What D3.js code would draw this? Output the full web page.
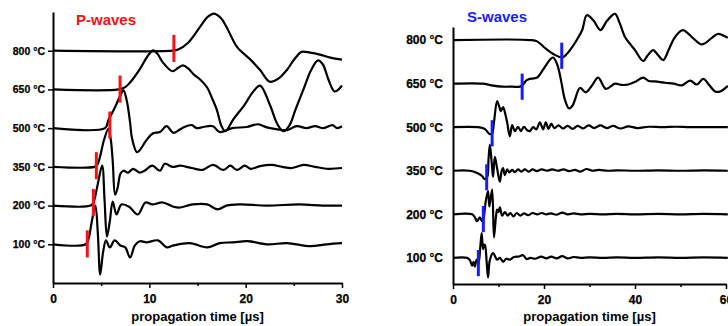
<!DOCTYPE html>
<html>
<head>
<meta charset="utf-8">
<script src="https://cdn.jsdelivr.net/npm/d3@7"></script>
<style>
  body { margin: 0; background: #fff; }
  svg text { font-family: "Liberation Sans", Arial, sans-serif; font-weight: bold; }
</style>
</head>
<body>
<div id="chart"></div>
<script>
// trace labels, bottom to top (index 0 = lowest trace)
const tempLabels = ["100 °C", "200 °C", "350 °C", "500 °C", "650 °C", "800 °C"];

// P-waves: [time µs, amplitude] (10 amplitude units = one trace spacing)
const p100 = [[0,0],[3.4,0],[3.7,1.5],[4.0,5.5],[4.4,10.0],[4.65,3],[4.9,-7.8],[5.2,-2],[5.5,1.0],[5.9,-0.8],[6.4,1.0],[7.0,-0.3],[7.5,-0.8],[8.0,-3.4],[8.5,-0.3],[9.0,0.8],[9.7,0.5],[10.9,1.0],[11.8,-0.8],[12.5,-0.3],[14.2,0.3],[16.0,-0.8],[17.3,0.3],[18.7,0.5],[20.2,0.8],[22.2,0],[24.3,0.3],[26.7,-0.5],[28.4,0],[30,0.3]];
const p200 = [[0,0],[3.9,0],[4.2,0.8],[4.6,5],[5.1,10.3],[5.35,1.5],[5.6,-8],[5.9,-4],[6.2,1.0],[6.6,-2.3],[7.1,0.3],[7.9,-0.3],[8.8,-2.3],[9.6,0.8],[10.3,0.3],[11.4,0.8],[12.5,-0.3],[13.2,-0.5],[14.5,0.3],[16.0,0.3],[17.1,-1.0],[18.0,0],[19.4,0.3],[22.2,0],[25.6,0.3],[28,0],[30,0]];
const p350 = [[0,0],[4.3,0],[4.6,0.5],[4.9,2.8],[5.3,7.0],[5.75,9.8],[6.0,7.0],[6.2,1.5],[6.45,-7.2],[6.7,-5.5],[7.0,-1.8],[7.3,-1.0],[7.8,-1.5],[8.3,-0.5],[9.0,-1.5],[9.5,-1.0],[10.3,0.3],[11.1,-1.0],[11.6,0.8],[12.4,0],[13.2,0.3],[14.4,-0.3],[15.5,-0.8],[16.6,0.5],[17.7,-0.8],[18.4,0.3],[19.1,-0.8],[19.9,0.3],[20.5,-0.5],[21.5,0.2],[22.7,0.5],[23.8,0],[24.8,-0.3],[26.0,0.5],[27.2,0],[28.6,-0.5],[30,-0.3]];
const p500 = [[0,0],[5.4,0],[5.75,2.1],[6.4,5.2],[7.0,8.5],[7.3,9.8],[7.65,7.2],[8.0,1.5],[8.2,-2.6],[8.7,-6.2],[9.0,-5.7],[9.7,-3.1],[10.4,-1.3],[11.1,-1.0],[11.8,0.5],[12.5,-1.2],[13.4,0],[14.4,0.8],[14.9,0],[15.6,0.3],[16.6,0.5],[17.3,-1.0],[18.6,0],[20.1,0.3],[21.3,1.0],[22.2,0.2],[23.3,-0.3],[24.3,-0.5],[25.3,0.5],[26.3,0],[27.2,0.5],[28.1,0],[29.0,0.8],[29.5,0],[30,0.5]];
const p650 = [[0,0],[6.8,0],[7.5,0.6],[8.0,1.8],[9.0,5.2],[9.8,8.5],[10.4,10.1],[10.9,9.0],[11.4,7.0],[12.4,4.7],[13.0,5.6],[13.5,6.2],[14.0,5.5],[14.6,3.9],[15.3,2.5],[16.0,0.5],[16.5,-2.2],[17.0,-5.2],[17.5,-9.5],[17.9,-10.8],[18.7,-7.8],[19.9,-3.9],[20.8,-0.5],[21.5,1.0],[22.5,-3.9],[23.3,-9],[23.9,-10.8],[24.5,-9.5],[25.2,-5],[26.0,0],[26.8,5],[27.5,7.5],[28.0,6.5],[28.6,2.5],[29.2,-0.5],[29.5,-0.3],[30,1.0]];
const p800 = [[0,0],[12.4,0],[13.0,0.3],[14.0,2.0],[15.3,6.3],[16.0,8.6],[16.7,9.6],[17.4,8.5],[18.0,6.2],[19.1,1.0],[20.5,-2.3],[21.5,-5.0],[22.5,-8.0],[23.4,-7.2],[24.3,-4.9],[25.0,-2.4],[25.8,-0.3],[26.7,-0.5],[27.7,-1.0],[28.8,-1.8],[30,-2.3]];

// S-waves
const s100 = [[0,0],[3.1,0],[3.7,-0.5],[4.2,-1.8],[4.5,-0.9],[4.8,-2.0],[5.2,-0.4],[5.6,-1.2],[6.0,2.5],[6.3,5.7],[6.6,2],[6.8,3],[7.0,3],[7.4,-1],[7.7,-4.5],[8.1,-0.5],[8.8,1.1],[9.7,-0.4],[10.3,0],[11,-0.9],[11.7,-0.2],[12.5,-0.4],[13.4,0.2],[14.4,0.3],[15.4,0.6],[16.2,-0.3],[17,0],[18,-0.2],[19.4,0.3],[20.5,-0.1],[21.6,0.3],[22.8,-0.1],[24,0.4],[25.2,-0.1],[26.5,0.2],[28,0],[30,0.1],[33,0],[36,0.1],[40,0],[45,0.1],[50,0],[55,0.1],[60.4,0]];
const s200 = [[0,0],[4.2,0],[4.8,-0.7],[5.3,-1.6],[5.9,-0.7],[6.4,-1.6],[6.7,-1.0],[7.2,3],[7.7,5.3],[8.0,1.8],[8.6,5.7],[9.0,-5.3],[9.4,-1],[9.7,1.1],[10.0,0.5],[10.3,1.6],[10.8,-0.3],[11.4,0.5],[12,-0.3],[12.6,0.3],[13.3,-0.5],[14,0.3],[14.8,-0.3],[15.6,0.2],[16.5,-0.2],[17.5,0.3],[18.5,0],[19.5,0.3],[20.5,0],[21.5,0.2],[22.7,-0.1],[24,0.4],[25.2,0],[26.5,0.2],[28,0],[30,0.1],[33,0],[36,0.1],[40,0],[45,0.1],[50,0],[55,0.1],[60.4,0]];
const s350 = [[0,0],[3.7,0],[5.3,-0.5],[6.4,-1.2],[6.9,-1.9],[7.5,-1.5],[7.8,2.5],[8.1,6],[8.5,2],[8.8,-1.4],[9.2,3.2],[9.7,0.5],[10.3,-2.5],[10.7,0],[11,0.6],[11.4,-1],[11.9,0.3],[12.4,-0.4],[13,0.2],[13.6,-0.3],[14.3,0.3],[15,-0.2],[15.8,0.3],[16.6,-0.2],[17.5,0.3],[18.4,-0.1],[19.5,0.3],[20.6,0],[21.8,0.3],[23,0],[24.3,0.3],[25.5,-0.1],[26.8,0.2],[28.0,-0.2],[29.3,0.4],[30.6,0],[32,0.2],[34,0],[36,0.1],[40,0],[45,0.1],[50,0],[55,0.1],[60.4,0]];
const s500 = [[0,0],[5.5,0],[7,-0.4],[8.1,-1.6],[8.6,-1.4],[9.0,1.1],[9.7,6],[10.2,4.6],[10.5,3.7],[11,4.6],[11.5,3],[11.9,1.1],[12.5,-2.1],[13,0.5],[13.6,-0.9],[14.3,0.1],[14.9,-0.9],[15.6,0.1],[16.3,-0.7],[16.9,-0.9],[17.6,0],[18.3,-0.5],[19.1,1.1],[19.8,-0.5],[20.4,1.1],[21,-0.4],[21.6,0.8],[22.3,-0.2],[23.2,0.4],[24.2,-0.3],[25.2,0.3],[26.3,-0.4],[27.4,0.3],[28.6,-0.3],[29.8,0.4],[31,-0.2],[32.4,0.4],[33.8,-0.2],[35.2,0.3],[36.8,-0.3],[38.5,0.2],[40.5,-0.2],[43,0.1],[46,0],[49,0.1],[52,0],[56,0],[60.4,0]];
const s650 = [[0,0],[6.5,0],[8.5,-0.4],[10.8,-0.7],[13,-0.7],[14.7,-0.7],[15.3,-0.3],[16.2,0.8],[16.9,1.1],[17.8,1.2],[18.5,1.4],[19.8,3.2],[21.3,5.5],[22.0,6.0],[22.9,4.4],[23.5,2],[24.0,-0.7],[24.6,-3.7],[25.5,-5.7],[26.3,-5],[26.8,-3.7],[27.9,-1],[29.2,-2],[30.5,-0.5],[31.9,1.4],[33.6,-1.2],[35.6,0],[37,-0.3],[38.5,-0.2],[40.2,0.5],[41.8,1.4],[43,0.6],[44.4,0.5],[46.6,0.2],[48.5,0],[50.3,-0.4],[52.1,0.7],[53.6,-0.2],[55,1.1],[56.3,-0.3],[57.6,-1.8],[58.7,-1.8],[60.4,-0.5]];
const s800 = [[0,0],[17,0],[18.5,-0.3],[20.2,-1.8],[22.4,-3.4],[24,-4.0],[25,-3.2],[26.2,-1.6],[27.3,0.2],[28.4,2.3],[29.4,5.7],[30.8,4.6],[32.4,2.3],[33.9,4.5],[35.6,6.0],[36.6,4.0],[37.8,0.7],[39,-1],[40,-2.3],[41.8,-4.8],[42.8,-3.5],[44,-2.3],[45.1,-3.5],[46.2,-4.6],[47.5,-2],[48.8,0.7],[50.5,2.3],[52.5,0.7],[54.7,-1.0],[56.9,0.5],[58.2,1.4],[60.4,0.5]];

// picks: arrival time and centre amplitude of the marker
const pPickTimes = [3.56, 4.19, 4.5, 5.9, 6.96, 12.55];
const pPickCentre = [0.1, 0.8, 0.3, 0.8, 0.1, 0.6];
const sPickTimes = [5.57, 6.67, 7.4, 8.6, 15.2, 23.9];
const sPickCentre = [-1.2, -1.1, -1.5, -1.4, -0.7, -3.6];

const pTicks = [0, 10, 20, 30], pMinor = [5, 15, 25];
const sTicks = [0, 20, 40, 60], sMinor = [10, 30, 50];

const svg = d3.select("#chart").append("svg")
    .attr("width", 728).attr("height", 326);

function drawPanel(opt) {
    const g = svg.append("g");
    const x = d3.scaleLinear().domain(opt.xDomain).range([opt.left, opt.right]);
    // trace k sits at amplitude 10*k
    const y = d3.scaleLinear().domain(opt.yDomain).range([opt.bottom, opt.top]);

    // y axis with temperature labels
    const yAxis = g.append("g")
        .attr("transform", `translate(${opt.left},0)`)
        .call(d3.axisLeft(y)
            .tickValues(tempLabels.map((d, i) => i * 10))
            .tickFormat((d, i) => tempLabels[i])
            .tickSize(opt.yTick).tickPadding(opt.yPad).tickSizeOuter(0));
    yAxis.select(".domain").attr("stroke-width", 2);
    yAxis.selectAll(".tick line").attr("stroke-width", 1.5);
    yAxis.selectAll("text").attr("font-size", opt.labelSize).attr("fill", "#000")
        .attr("stroke", "#000").attr("stroke-width", 0.25);

    // x axis, major + minor ticks
    const xAxis = g.append("g")
        .attr("transform", `translate(0,${opt.bottom})`)
        .call(d3.axisBottom(x).tickValues(opt.ticks).tickSize(5).tickPadding(6).tickSizeOuter(0));
    xAxis.select(".domain").attr("stroke-width", 2);
    xAxis.selectAll(".tick line").attr("stroke-width", 1.5);
    xAxis.selectAll("text").attr("font-size", 12).attr("fill", "#000")
        .attr("stroke", "#000").attr("stroke-width", 0.25);
    const minor = g.append("g")
        .attr("transform", `translate(0,${opt.bottom})`)
        .call(d3.axisBottom(x).tickValues(opt.minor).tickSize(3).tickFormat(""));
    minor.select(".domain").remove();
    minor.selectAll(".tick line").attr("stroke-width", 1.5);

    g.append("text")
        .attr("x", (opt.left + opt.right) / 2)
        .attr("y", 321)
        .attr("text-anchor", "middle")
        .attr("font-size", 13)
        .attr("fill", "#000")
        .text("propagation time [µs]");

    g.append("text")
        .attr("x", opt.nameX).attr("y", opt.nameY)
        .attr("font-size", 15)
        .attr("fill", opt.color)
        .text(opt.name);

    const line = d3.line()
        .curve(d3.curveCatmullRom.alpha(0.5));

    opt.traces.forEach((tr, k) => {
        g.append("path")
            .datum(tr)
            .attr("fill", "none")
            .attr("stroke", "#000")
            .attr("stroke-width", 2.2)
            .attr("stroke-linejoin", "round")
            .attr("d", line.x(d => x(d[0])).y(d => y(k * 10 + d[1])));
    });

    g.selectAll(".pick")
        .data(opt.pickTimes)
        .join("line")
        .attr("x1", d => x(d)).attr("x2", d => x(d))
        .attr("y1", (d, k) => y(k * 10 + opt.pickCentre[k] + opt.pickHalf))
        .attr("y2", (d, k) => y(k * 10 + opt.pickCentre[k] - opt.pickHalf))
        .attr("stroke", opt.color)
        .attr("stroke-width", 3);
}

drawPanel({
    xDomain: [0, 30], left: 53, right: 342,
    yDomain: [-10, 60], bottom: 283, top: 12,
    yTick: 5, yPad: 3, labelSize: 10.5,
    ticks: pTicks, minor: pMinor,
    name: "P-waves", nameX: 76, nameY: 25, color: "#f01414",
    traces: [p100, p200, p350, p500, p650, p800],
    pickTimes: pPickTimes, pickCentre: pPickCentre, pickHalf: 3.5
});

drawPanel({
    xDomain: [0, 60], left: 453, right: 726,
    yDomain: [-6, 53], bottom: 284, top: 27,
    yTick: 0, yPad: 10, labelSize: 12,
    ticks: sTicks, minor: sMinor,
    name: "S-waves", nameX: 467, nameY: 22, color: "#1a1aff",
    traces: [s100, s200, s350, s500, s650, s800],
    pickTimes: sPickTimes, pickCentre: sPickCentre, pickHalf: 3
});
</script>
</body>
</html>
